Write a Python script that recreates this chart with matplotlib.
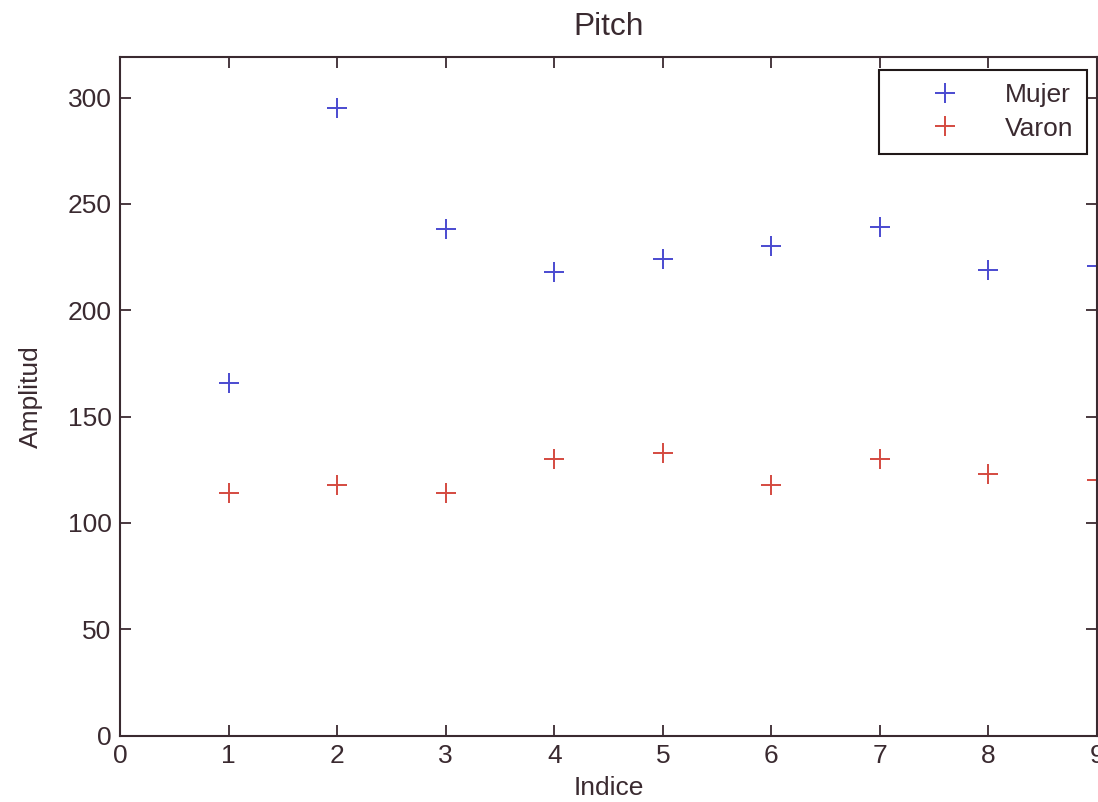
import matplotlib
matplotlib.use("Agg")
import matplotlib.pyplot as plt

indice = [1, 2, 3, 4, 5, 6, 7, 8, 9]
mujer = [166, 295, 238, 218, 224, 230, 239, 219, 221]
varon = [114, 118, 114, 130, 133, 118, 130, 123, 120]

axis_color = "#3a2a30"
plt.rcParams["font.family"] = ["Liberation Sans", "DejaVu Sans"]
plt.rcParams["font.size"] = 19

fig = plt.figure(figsize=(10.98, 8.02), dpi=100)
ax = fig.add_axes([0.1093, 0.0827, 0.8898, 0.846])

ax.plot(indice, mujer, "+", color="#4a4ad0", markersize=14, markeredgewidth=1.4, label="Mujer")
ax.plot(indice, varon, "+", color="#d44a40", markersize=14, markeredgewidth=1.4, label="Varon")

ax.set_xlim(0, 9)
ax.set_ylim(0, 319)
ax.set_xticks(range(0, 10))
ax.set_yticks(range(0, 301, 50))
ax.tick_params(direction="in", length=8, width=1.3, top=True, right=True,
               colors=axis_color, labelcolor=axis_color, pad=6)
for s in ax.spines.values():
    s.set_color(axis_color)
    s.set_linewidth(1.5)

ax.set_title("Pitch", color=axis_color, pad=16)
ax.set_xlabel("Indice", color=axis_color, labelpad=6)
ax.set_ylabel("Amplitud", color=axis_color, labelpad=18)

leg = ax.legend(loc="upper right", bbox_to_anchor=(1087 / 1098, 1 - 70 / 802),
                bbox_transform=fig.transFigure, borderaxespad=0, fancybox=False,
                framealpha=1, edgecolor="#201818", handlelength=4.0, handletextpad=0.3,
                borderpad=0.5, labelspacing=0.36, markerfirst=True)
leg.get_frame().set_linewidth(1.5)
for t in leg.get_texts():
    t.set_color(axis_color)

fig.savefig("out.png", dpi=100)
